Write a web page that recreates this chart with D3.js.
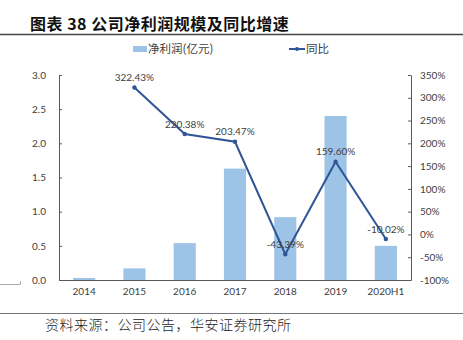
<!DOCTYPE html>
<html><head><meta charset="utf-8">
<script src="https://cdn.jsdelivr.net/npm/d3@7"></script>
<style>body{margin:0;background:#fff}svg{display:block}</style>
</head><body>
<script>
const categories = ["2014","2015","2016","2017","2018","2019","2020H1"];
const profit = [0.03, 0.17, 0.54, 1.63, 0.92, 2.40, 0.50];
const growth = [null, 322.43, 220.38, 203.47, -43.39, 159.60, -10.02];
const leftTicks = [0, 0.5, 1.0, 1.5, 2.0, 2.5, 3.0];
const rightTicks = [-100, -50, 0, 50, 100, 150, 200, 250, 300, 350];
const title = "图表 38 公司净利润规模及同比增速";
const source = "资料来源：公司公告，华安证券研究所";
const legendBar = "净利润(亿元)";
const legendLine = "同比";

const W = 463, H = 340;
const svg = d3.select("body").append("svg").attr("width", W).attr("height", H);
const L = 59, R = 411, T = 75, B = 280;
const barColor = "#9DC3E6", lineColor = "#2F5597", axisColor = "#595959";
const tickFont = "Lato, 'Liberation Sans', sans-serif";
const cjk = "'Noto Sans CJK SC', sans-serif";

// title
svg.append("text").attr("x", 30).attr("y", 30).attr("font-family", cjk)
  .attr("font-weight", "bold").attr("font-size", 16).attr("letter-spacing", 0.5).attr("fill", "#111").text(title);
svg.append("line").attr("x1", 0).attr("x2", W).attr("y1", 34.5).attr("y2", 34.5)
  .attr("stroke", "#444").attr("stroke-width", 1.5);

const x = d3.scaleBand().domain(categories).range([L, R]).paddingInner(0.56).paddingOuter(0.28);
const yL = d3.scaleLinear().domain([0, 3]).range([B, T]);
const yR = d3.scaleLinear().domain([-100, 350]).range([B, T]);

// bars
svg.append("g").selectAll("rect").data(categories).join("rect")
  .attr("x", d => x(d)).attr("width", x.bandwidth())
  .attr("y", (d, i) => yL(profit[i])).attr("height", (d, i) => B - yL(profit[i]))
  .attr("fill", barColor);

// axes
const gl = svg.append("g").attr("transform", `translate(${L},0)`)
  .call(d3.axisLeft(yL).tickValues(leftTicks).tickFormat(d3.format(".1f")).tickSizeInner(-3).tickSizeOuter(0).tickPadding(13));
const gr = svg.append("g").attr("transform", `translate(${R},0)`)
  .call(d3.axisRight(yR).tickValues(rightTicks).tickFormat(d => d + "%").tickSizeInner(-3).tickSizeOuter(0).tickPadding(9));
const gx = svg.append("g").attr("transform", `translate(0,${B})`)
  .call(d3.axisBottom(x).tickSize(0).tickPadding(8));
[gl, gr, gx].forEach(g => {
  g.selectAll("path,line").attr("stroke", axisColor);
  g.selectAll("text").attr("font-family", tickFont).attr("font-size", 10).attr("fill", "#404040");
});

// line
const pts = categories.map((c, i) => ({c, v: growth[i]})).filter(d => d.v !== null);
const cx = d => x(d.c) + x.bandwidth() / 2;
svg.append("path").datum(pts)
  .attr("d", d3.line().x(cx).y(d => yR(d.v)))
  .attr("fill", "none").attr("stroke", lineColor).attr("stroke-width", 2);
svg.append("g").selectAll("circle").data(pts).join("circle")
  .attr("cx", cx).attr("cy", d => yR(d.v)).attr("r", 2.2).attr("fill", lineColor);
svg.append("g").selectAll("text").data(pts).join("text")
  .attr("x", cx).attr("y", d => yR(d.v) - 6.5).attr("text-anchor", "middle")
  .attr("font-family", tickFont).attr("font-size", 10).attr("fill", "#404040")
  .text(d => d.v.toFixed(2) + "%");

// legend
svg.append("rect").attr("x", 133).attr("y", 46).attr("width", 14).attr("height", 6).attr("fill", barColor);
svg.append("text").attr("x", 148).attr("y", 53).attr("font-family", cjk).attr("font-size", 11.5)
  .attr("fill", "#404040").text(legendBar);
svg.append("line").attr("x1", 289).attr("x2", 305).attr("y1", 49).attr("y2", 49)
  .attr("stroke", lineColor).attr("stroke-width", 2);
svg.append("circle").attr("cx", 297).attr("cy", 49).attr("r", 2).attr("fill", lineColor);
svg.append("text").attr("x", 306).attr("y", 53).attr("font-family", cjk).attr("font-size", 11.5)
  .attr("fill", "#404040").text(legendLine);

// left artifact
svg.append("path").attr("d", "M0,284.5H20.5V281").attr("fill", "none").attr("stroke", "#aaa").attr("stroke-width", 1);

// footer
svg.append("line").attr("x1", 0).attr("x2", W).attr("y1", 313.5).attr("y2", 313.5)
  .attr("stroke", "#777").attr("stroke-width", 1);
svg.append("text").attr("x", 45).attr("y", 330).attr("font-family", cjk).attr("font-weight", 300)
  .attr("font-size", 14).attr("letter-spacing", 0.5).attr("fill", "#222").text(source);
</script>
</body></html>
